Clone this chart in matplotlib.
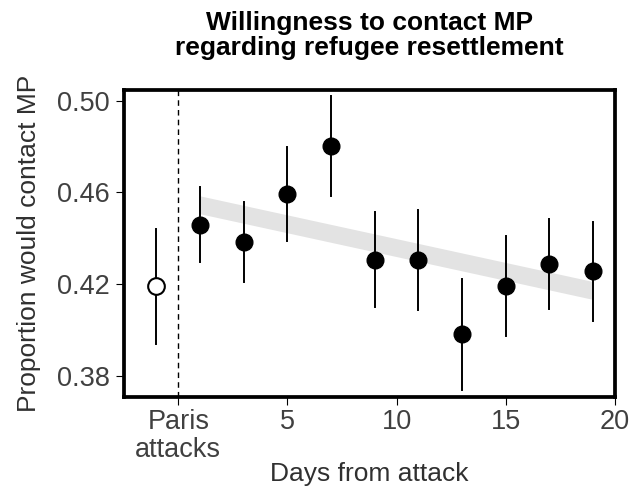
import matplotlib
matplotlib.use("Agg")
import matplotlib.pyplot as plt
import numpy as np

# daily estimates after the attack (odd days), with 95% intervals
days = [1, 3, 5, 7, 9, 11, 13, 15, 17, 19]
prop = [0.4458, 0.4386, 0.4593, 0.4803, 0.4306, 0.4306, 0.3982, 0.4194, 0.4289, 0.4258]
lo = [0.4296, 0.4209, 0.4390, 0.4586, 0.4103, 0.4088, 0.3740, 0.3976, 0.4092, 0.4041]
hi = [0.4624, 0.4560, 0.4797, 0.5020, 0.4514, 0.4524, 0.4223, 0.4412, 0.4483, 0.4470]

# pre-attack baseline
pre_day = -1
pre_prop = 0.4193
pre_lo = 0.3941
pre_hi = 0.4441

# linear trend band (start / end)
trend_x = [1, 19]
trend_y = [0.4546, 0.4173]
trend_half = 0.0039

xticks = [0, 5, 10, 15, 20]
xticklabels = ["Paris\nattacks", "5", "10", "15", "20"]
yticks = [0.38, 0.42, 0.46, 0.50]
title_lines = ["Willingness to contact MP", "regarding refugee resettlement"]

plt.rcParams["font.family"] = ["Liberation Sans", "DejaVu Sans"]

fig = plt.figure(figsize=(6.29, 4.92), dpi=100)
ax = fig.add_axes([0.1967, 0.1941, 0.7806, 0.6224])

ty = np.array(trend_y)
ax.fill_between(trend_x, ty - trend_half, ty + trend_half, color="#e3e3e3", lw=0, zorder=1)

ax.axvline(0, color="black", lw=1, ls=(0, (4, 3)), zorder=2)

for d, l, h in zip(days, lo, hi):
    ax.plot([d, d], [l, h], color="black", lw=1.4, zorder=3)
ax.plot(days, prop, "o", color="black", ms=12, zorder=4)

ax.plot([pre_day, pre_day], [pre_lo, pre_hi], color="black", lw=1.4, zorder=3)
ax.plot([pre_day], [pre_prop], "o", mfc="white", mec="black", mew=1.5, ms=12, zorder=4)

ax.set_xlim(-2.5, 20)
ax.set_ylim(0.3711, 0.5045)
ax.set_xticks(xticks)
ax.set_xticklabels(xticklabels, linespacing=1.12)
ax.set_yticks(yticks)
ax.set_yticklabels([f"{v:.2f}" for v in yticks])

for s in ax.spines.values():
    s.set_linewidth(2.7)
ax.tick_params(axis="both", labelsize=19.5, labelcolor="#404040", length=6, width=0.8)
ax.tick_params(axis="x", pad=3)
ax.tick_params(axis="y", pad=4)

ax.set_xlabel("Days from attack", fontsize=19, color="#303030")
ax.set_ylabel("Proportion would contact MP", fontsize=19, color="#303030")
ax.xaxis.set_label_coords(0.5, -0.214)
ax.yaxis.set_label_coords(-0.168, 0.5)

# two-line bold heading centred over the plot
for txt, yb in zip(title_lines, [1.197, 1.115]):
    ax.text(0.5, yb, txt, transform=ax.transAxes, ha="center", va="baseline",
            fontsize=19, fontweight="bold")

fig.savefig("out.png", dpi=100)
